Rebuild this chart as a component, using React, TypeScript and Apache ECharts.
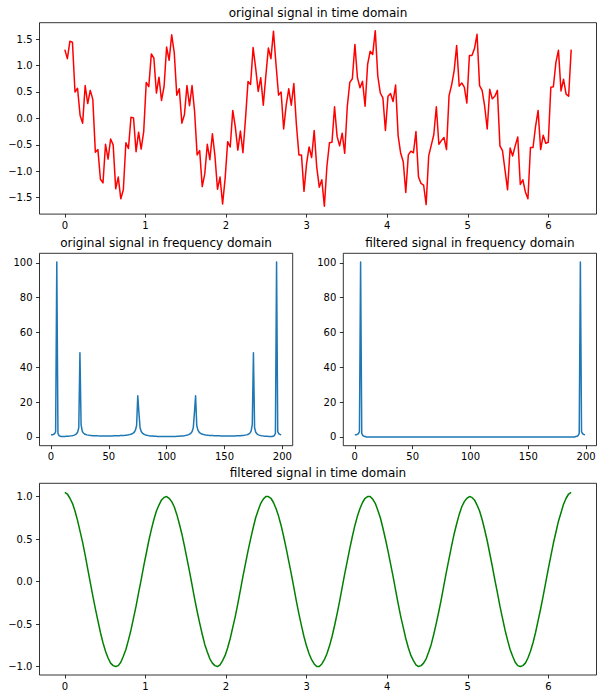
import React, { useEffect, useRef } from "react";
import * as echarts from "echarts";

// sample grid of the time-domain plots (200 samples from 0 to 2π)
const timeStart = 0;
const timeEnd = 6.2832;

// original signal
const originalSignal = [
  1.30, 1.13, 1.46, 1.44, 0.50, 0.57, 0.06, -0.09, 0.62, 0.28,
  0.53, 0.36, -0.64, -0.59, -1.15, -1.22, -0.49, -0.77, -0.39, -0.50,
  -1.33, -1.11, -1.52, -1.35, -0.46, -0.57, 0.02, 0.01, -0.63, -0.26,
  -0.58, -0.25, 0.68, 0.60, 1.22, 1.14, 0.48, 0.78, 0.34, 0.60,
  1.35, 1.10, 1.58, 1.25, 0.44, 0.56, -0.09, 0.07, 0.62, 0.24,
  0.62, 0.13, -0.69, -0.61, -1.29, -1.05, -0.49, -0.78, -0.29, -0.71,
  -1.34, -1.11, -1.62, -1.14, -0.44, -0.54, 0.15, -0.16, -0.60, -0.24,
  -0.65, -0.01, 0.70, 0.64, 1.34, 0.95, 0.51, 0.77, 0.25, 0.81,
  1.33, 1.13, 1.65, 1.02, 0.44, 0.50, -0.20, 0.25, 0.56, 0.25,
  0.66, -0.11, -0.69, -0.69, -1.38, -0.86, -0.54, -0.74, -0.23, -0.92,
  -1.30, -1.16, -1.66, -0.91, -0.46, -0.45, 0.22, -0.34, -0.52, -0.28,
  -0.66, 0.22, 0.68, 0.75, 1.40, 0.77, 0.58, 0.70, 0.23, 1.02,
  1.27, 1.21, 1.66, 0.80, 0.48, 0.39, -0.23, 0.42, 0.47, 0.32,
  0.63, -0.33, -0.66, -0.82, -1.40, -0.69, -0.62, -0.65, -0.25, -1.11,
  -1.23, -1.26, -1.63, -0.71, -0.51, -0.31, 0.22, -0.49, -0.42, -0.36,
  -0.59, 0.43, 0.63, 0.90, 1.38, 0.61, 0.67, 0.59, 0.29, 1.19,
  1.19, 1.32, 1.59, 0.62, 0.53, 0.23, -0.20, 0.55, 0.37, 0.42,
  0.53, -0.52, -0.61, -0.98, -1.35, -0.56, -0.71, -0.52, -0.35, -1.25,
  -1.16, -1.39, -1.52, -0.55, -0.55, -0.15, 0.15, -0.59, -0.32, -0.47,
  -0.45, 0.59, 0.60, 1.06, 1.29, 0.52, 0.74, 0.46, 0.42, 1.30,
];

// spectrum magnitude of the original signal (bins 0..199)
const originalSpectrum = [
  1.30, 1.34, 1.49, 1.85, 3.03, 100.43, 2.05, 0.77, 0.39, 0.24,
  0.23, 0.26, 0.31, 0.36, 0.42, 0.48, 0.55, 0.64, 0.74, 0.88,
  1.08, 1.37, 1.84, 2.75, 5.30, 48.42, 7.14, 3.41, 2.28, 1.74,
  1.42, 1.21, 1.07, 0.96, 0.88, 0.82, 0.77, 0.73, 0.70, 0.68,
  0.66, 0.64, 0.63, 0.62, 0.61, 0.61, 0.60, 0.61, 0.61, 0.61,
  0.61, 0.62, 0.63, 0.64, 0.65, 0.67, 0.69, 0.71, 0.73, 0.76,
  0.79, 0.83, 0.87, 0.92, 0.98, 1.06, 1.15, 1.26, 1.40, 1.59,
  1.84, 2.22, 2.82, 3.92, 6.62, 23.67, 14.00, 5.25, 3.18, 2.25,
  1.72, 1.38, 1.14, 0.96, 0.83, 0.72, 0.63, 0.56, 0.50, 0.45,
  0.40, 0.37, 0.33, 0.30, 0.28, 0.26, 0.24, 0.23, 0.22, 0.21,
  0.21, 0.21, 0.22, 0.23, 0.24, 0.26, 0.28, 0.30, 0.33, 0.37,
  0.40, 0.45, 0.50, 0.56, 0.63, 0.72, 0.83, 0.96, 1.14, 1.38,
  1.72, 2.25, 3.18, 5.25, 14.00, 23.67, 6.62, 3.92, 2.82, 2.22,
  1.84, 1.59, 1.40, 1.26, 1.15, 1.06, 0.98, 0.92, 0.87, 0.83,
  0.79, 0.76, 0.73, 0.71, 0.69, 0.67, 0.65, 0.64, 0.63, 0.62,
  0.61, 0.61, 0.61, 0.61, 0.60, 0.61, 0.61, 0.62, 0.63, 0.64,
  0.66, 0.68, 0.70, 0.73, 0.77, 0.82, 0.88, 0.96, 1.07, 1.21,
  1.42, 1.74, 2.28, 3.41, 7.14, 48.42, 5.30, 2.75, 1.84, 1.37,
  1.08, 0.88, 0.74, 0.64, 0.55, 0.48, 0.42, 0.36, 0.31, 0.26,
  0.23, 0.24, 0.39, 0.77, 2.05, 100.43, 3.03, 1.85, 1.49, 1.34,
];

// spectrum magnitude after the low-pass filter (bins 0..199)
const filteredSpectrum = [
  1.30, 1.34, 1.49, 1.85, 3.03, 100.43, 2.05, 0.77, 0.39, 0.24,
  0, 0, 0, 0, 0, 0, 0, 0, 0, 0,
  0, 0, 0, 0, 0, 0, 0, 0, 0, 0,
  0, 0, 0, 0, 0, 0, 0, 0, 0, 0,
  0, 0, 0, 0, 0, 0, 0, 0, 0, 0,
  0, 0, 0, 0, 0, 0, 0, 0, 0, 0,
  0, 0, 0, 0, 0, 0, 0, 0, 0, 0,
  0, 0, 0, 0, 0, 0, 0, 0, 0, 0,
  0, 0, 0, 0, 0, 0, 0, 0, 0, 0,
  0, 0, 0, 0, 0, 0, 0, 0, 0, 0,
  0, 0, 0, 0, 0, 0, 0, 0, 0, 0,
  0, 0, 0, 0, 0, 0, 0, 0, 0, 0,
  0, 0, 0, 0, 0, 0, 0, 0, 0, 0,
  0, 0, 0, 0, 0, 0, 0, 0, 0, 0,
  0, 0, 0, 0, 0, 0, 0, 0, 0, 0,
  0, 0, 0, 0, 0, 0, 0, 0, 0, 0,
  0, 0, 0, 0, 0, 0, 0, 0, 0, 0,
  0, 0, 0, 0, 0, 0, 0, 0, 0, 0,
  0, 0, 0, 0, 0, 0, 0, 0, 0, 0,
  0, 0.24, 0.39, 0.77, 2.05, 100.43, 3.03, 1.85, 1.49, 1.34,
];

// filtered signal
const filteredSignal = [
  1.05, 1.03, 0.98, 0.92, 0.83, 0.72, 0.59, 0.46, 0.31, 0.15,
  -0.01, -0.17, -0.32, -0.46, -0.60, -0.72, -0.82, -0.90, -0.96, -0.99,
  -1.00, -0.99, -0.95, -0.88, -0.80, -0.69, -0.57, -0.43, -0.29, -0.13,
  0.02, 0.18, 0.33, 0.48, 0.61, 0.73, 0.83, 0.90, 0.96, 0.99,
  1.00, 0.98, 0.94, 0.88, 0.79, 0.68, 0.56, 0.42, 0.27, 0.12,
  -0.04, -0.20, -0.35, -0.49, -0.62, -0.74, -0.83, -0.91, -0.96, -0.99,
  -1.00, -0.98, -0.93, -0.87, -0.78, -0.67, -0.54, -0.41, -0.26, -0.10,
  0.06, 0.21, 0.36, 0.50, 0.63, 0.75, 0.84, 0.92, 0.97, 1.00,
  1.00, 0.98, 0.93, 0.86, 0.77, 0.66, 0.53, 0.39, 0.24, 0.09,
  -0.07, -0.23, -0.38, -0.52, -0.65, -0.76, -0.85, -0.92, -0.97, -1.00,
  -1.00, -0.97, -0.92, -0.85, -0.76, -0.65, -0.52, -0.38, -0.23, -0.07,
  0.09, 0.24, 0.39, 0.53, 0.66, 0.77, 0.86, 0.93, 0.98, 1.00,
  1.00, 0.97, 0.92, 0.84, 0.75, 0.63, 0.50, 0.36, 0.21, 0.06,
  -0.10, -0.26, -0.41, -0.54, -0.67, -0.78, -0.87, -0.93, -0.98, -1.00,
  -0.99, -0.96, -0.91, -0.83, -0.74, -0.62, -0.49, -0.35, -0.20, -0.04,
  0.12, 0.27, 0.42, 0.56, 0.68, 0.79, 0.88, 0.94, 0.98, 1.00,
  0.99, 0.96, 0.90, 0.83, 0.73, 0.61, 0.48, 0.33, 0.18, 0.02,
  -0.13, -0.29, -0.43, -0.57, -0.69, -0.80, -0.88, -0.95, -0.99, -1.00,
  -0.99, -0.96, -0.90, -0.82, -0.72, -0.60, -0.46, -0.32, -0.17, -0.01,
  0.15, 0.30, 0.45, 0.58, 0.71, 0.81, 0.91, 0.98, 1.03, 1.05,
];

// tick labels
const timeTicks = [0, 1, 2, 3, 4, 5, 6];
const originalTicks = [-1.5, -1.0, -0.5, 0.0, 0.5, 1.0, 1.5];
const filteredTicks = [-1.0, -0.5, 0.0, 0.5, 1.0];
const binTicks = [0, 50, 100, 150, 200];
const magnitudeTicks = [0, 20, 40, 60, 80, 100];

const titles = [
  "original signal in time domain",
  "original signal in frequency domain",
  "filtered signal in frequency domain",
  "filtered signal in time domain",
];

const FONT = '"DejaVu Sans", "Liberation Sans", sans-serif';
const minus = (s: string) => s.replace("-", "\u2212");
const fmt1 = (v: number) => minus(v.toFixed(1));
const fmt0 = (v: number) => minus(String(Math.round(v)));

function xAxis(gridIndex: number, min: number, max: number, ticks: number[], formatter: (v: number) => string) {
  return {
    type: "value",
    gridIndex,
    min,
    max,
    axisLine: { show: false, onZero: false },
    splitLine: { show: false },
    axisTick: { show: true, length: 3.5, customValues: ticks, lineStyle: { color: "#000", width: 0.8 } },
    axisLabel: { show: true, customValues: ticks, formatter, fontSize: 10, color: "#000", fontFamily: FONT, margin: 6 },
  };
}

function yAxis(gridIndex: number, min: number, max: number, ticks: number[], formatter: (v: number) => string) {
  return {
    type: "value",
    gridIndex,
    min,
    max,
    axisLine: { show: false, onZero: false },
    splitLine: { show: false },
    axisTick: { show: true, length: 3.5, customValues: ticks, lineStyle: { color: "#000", width: 0.8 } },
    axisLabel: { show: true, customValues: ticks, formatter, fontSize: 10, color: "#000", fontFamily: FONT, margin: 7 },
  };
}

function lineSeries(idx: number, data: number[][], color: string) {
  return {
    type: "line",
    xAxisIndex: idx,
    yAxisIndex: idx,
    data,
    symbol: "none",
    showSymbol: false,
    silent: true,
    clip: true,
    lineStyle: { color, width: 1.5, join: "round" },
    emphasis: { disabled: true },
  };
}

export default function App() {
  const ref = useRef<HTMLDivElement>(null);

  useEffect(() => {
    if (!ref.current) return;
    const chart = echarts.init(ref.current, undefined, { renderer: "svg" });

    const n = originalSignal.length;
    const times = originalSignal.map((_, i) => timeStart + ((timeEnd - timeStart) * i) / (n - 1));
    const origData = originalSignal.map((v, i) => [times[i], v]);
    const filtData = filteredSignal.map((v, i) => [times[i], v]);
    const origSpec = originalSpectrum.map((v, i) => [i, v]);
    const filtSpec = filteredSpectrum.map((v, i) => [i, v]);

    const grids = [
      { left: 39.5, top: 22.7, width: 557, height: 191.4 },
      { left: 39.5, top: 253.3, width: 253.2, height: 192.4 },
      { left: 343.3, top: 253.3, width: 253.2, height: 192.4 },
      { left: 39.5, top: 483.3, width: 557, height: 191.7 },
    ];

    const tMin = -0.31416;
    const tMax = 6.59734;

    const option: any = {
      animation: false,
      backgroundColor: "#fff",
      grid: grids.map((g) => ({
        ...g,
        show: true,
        borderColor: "#000",
        borderWidth: 0.8,
        backgroundColor: "transparent",
        containLabel: false,
      })),
      xAxis: [
        xAxis(0, tMin, tMax, timeTicks, fmt0),
        xAxis(1, -9.95, 208.95, binTicks, fmt0),
        xAxis(2, -9.95, 208.95, binTicks, fmt0),
        xAxis(3, tMin, tMax, timeTicks, fmt0),
      ],
      yAxis: [
        yAxis(0, -1.81, 1.81, originalTicks, fmt1),
        yAxis(1, -5.0, 105.45, magnitudeTicks, fmt0),
        yAxis(2, -5.0, 105.45, magnitudeTicks, fmt0),
        yAxis(3, -1.1, 1.156, filteredTicks, fmt1),
      ],
      series: [
        lineSeries(0, origData, "#ff0000"),
        lineSeries(1, origSpec, "#1f77b4"),
        lineSeries(2, filtSpec, "#1f77b4"),
        lineSeries(3, filtData, "#008000"),
      ],
      graphic: titles.map((text, i) => {
        const g = grids[i];
        return {
          type: "text",
          x: g.left + g.width / 2,
          y: g.top - 10.2,
          silent: true,
          style: {
            text,
            fill: "#000",
            font: `12px ${FONT}`,
            align: "center",
            verticalAlign: "middle",
            textAlign: "center",
            textVerticalAlign: "middle",
          },
        };
      }),
    };

    chart.setOption(option);
    return () => chart.dispose();
  }, []);

  return (
    <div
      ref={ref}
      style={{ position: "fixed", left: 0, top: 0, width: 607, height: 699, background: "#fff" }}
    />
  );
}
